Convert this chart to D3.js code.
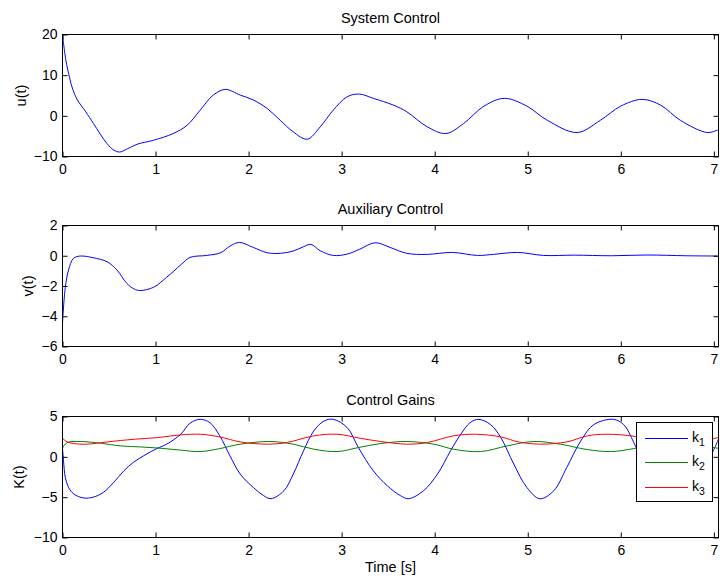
<!DOCTYPE html>
<html>
<head>
<meta charset="utf-8">
<script src="https://cdn.jsdelivr.net/npm/d3@7/dist/d3.min.js"></script>
<style>
  html, body { margin: 0; padding: 0; background: #fff; }
  svg { display: block; font-family: "Liberation Sans", Arial, Helvetica, sans-serif; }
</style>
</head>
<body>
<svg id="chart" width="720" height="578"></svg>
<script>
// ---- data ----
const timeTicks = [0, 1, 2, 3, 4, 5, 6, 7];

const uTime = [0, 0.036, 0.075, 0.11, 0.16, 0.25, 0.333, 0.477, 0.55, 0.613, 0.69, 0.80, 0.978, 1.19, 1.34, 1.48, 1.62, 1.75, 1.91, 2.05, 2.2, 2.34, 2.48, 2.63, 2.77, 2.91, 3.06, 3.19, 3.34, 3.56, 3.70, 3.92, 4.12, 4.31, 4.53, 4.75, 4.99, 5.21, 5.53, 5.78, 6.0, 6.23, 6.43, 6.64, 6.93, 7.05];
const uValues = [20, 13.7, 9.5, 6.5, 3.9, 1.0, -1.9, -6.8, -8.4, -8.9, -8.2, -7.0, -6.0, -4.35, -2.3, 1.4, 5.1, 6.5, 5.1, 3.9, 1.8, -1.1, -3.95, -5.75, -2.7, 1.4, 4.7, 5.35, 4.3, 2.6, 1.0, -2.7, -4.35, -1.9, 2.4, 4.3, 2.4, -1.1, -4.1, -1.1, 2.4, 4.05, 2.6, -1.1, -4.1, -3.4];

const vTime = [0, 0.03, 0.065, 0.118, 0.19, 0.33, 0.48, 0.585, 0.69, 0.77, 0.835, 0.98, 1.12, 1.27, 1.37, 1.55, 1.70, 1.80, 1.90, 2.05, 2.2, 2.34, 2.48, 2.59, 2.67, 2.77, 2.91, 3.06, 3.19, 3.36, 3.52, 3.70, 3.92, 4.19, 4.46, 4.63, 4.89, 5.17, 5.5, 5.9, 6.28, 6.7, 7.05];
const vValues = [-4.45, -2.1, -0.94, -0.17, -0.02, -0.13, -0.4, -0.94, -1.82, -2.2, -2.3, -2.08, -1.42, -0.61, -0.11, 0.02, 0.2, 0.64, 0.88, 0.55, 0.2, 0.16, 0.31, 0.6, 0.75, 0.33, 0.02, 0.11, 0.42, 0.86, 0.55, 0.16, 0.09, 0.22, 0.02, 0.09, 0.22, 0.02, 0.04, 0.0, 0.05, 0.0, -0.02];

const k1Time = [0, 0.011, 0.03, 0.065, 0.12, 0.226, 0.33, 0.44, 0.55, 0.66, 0.76, 0.87, 1.015, 1.12, 1.27, 1.37, 1.48, 1.585, 1.69, 1.80, 1.91, 2.05, 2.16, 2.24, 2.38, 2.48, 2.59, 2.70, 2.81, 2.91, 3.06, 3.18, 3.34, 3.49, 3.63, 3.72, 3.88, 4.03, 4.17, 4.28, 4.38, 4.47, 4.6, 4.71, 4.85, 4.99, 5.13, 5.28, 5.42, 5.57, 5.71, 5.92, 6.03, 6.14, 6.3, 6.42, 6.55, 6.7, 6.85, 7.0, 7.05];
const k1Values = [1.05, -0.5, -2.55, -3.79, -4.6, -5.1, -5.0, -4.4, -3.17, -1.73, -0.7, 0.12, 1.03, 1.57, 2.8, 4.16, 4.65, 4.23, 2.6, 0.12, -2.14, -3.79, -4.8, -5.19, -4.2, -2.14, 0.74, 3.2, 4.44, 4.65, 3.62, 1.15, -1.73, -3.58, -4.8, -5.19, -4.2, -2.14, 0.74, 2.8, 4.23, 4.65, 4.0, 2.4, -0.9, -3.79, -5.19, -4.2, -1.3, 1.98, 4.0, 4.65, 4.0, 1.77, -2.5, -4.6, -5.19, -4.2, -2.14, 0.9, 2.2];

const k2Time = [0, 0.05, 0.19, 0.41, 0.62, 0.84, 1.05, 1.27, 1.48, 1.69, 1.91, 2.23, 2.48, 2.70, 2.95, 3.18, 3.42, 3.7, 3.99, 4.2, 4.49, 4.78, 5.06, 5.35, 5.64, 5.89, 6.14, 6.5, 6.75, 7.0, 7.05];
const k2Values = [1.1, 1.77, 1.9, 1.69, 1.36, 1.23, 1.07, 0.83, 0.65, 1.02, 1.57, 1.9, 1.57, 0.95, 0.65, 1.15, 1.65, 1.9, 1.57, 0.95, 0.65, 1.36, 1.9, 1.57, 0.9, 0.65, 1.02, 1.9, 1.6, 1.15, 1.05];

const k3Time = [0, 0.05, 0.12, 0.26, 0.48, 0.77, 1.02, 1.27, 1.48, 1.69, 1.91, 2.2, 2.41, 2.70, 2.95, 3.2, 3.42, 3.7, 3.92, 4.2, 4.44, 4.71, 4.9, 5.14, 5.42, 5.64, 5.85, 6.14, 6.35, 6.6, 6.8, 7.05];
const k3Values = [2.3, 1.85, 1.65, 1.57, 1.85, 2.18, 2.38, 2.72, 2.8, 2.47, 1.85, 1.57, 1.77, 2.6, 2.8, 2.3, 1.9, 1.57, 1.77, 2.6, 2.8, 2.47, 1.85, 1.57, 1.85, 2.6, 2.8, 2.55, 2.0, 1.57, 1.8, 2.4];

const gainNames = ["1", "2", "3"];
const gainColors = ["#0000ff", "#008000", "#ff0000"];

// ---- layout ----
const svg = d3.select("#chart");
const plotLeft = 62.5, plotRight = 718.5;
const x = d3.scaleLinear().domain([0, 7.05]).range([plotLeft, plotRight]);

const panels = [
  { title: "System Control", ylabel: "u(t)", top: 34.5, bottom: 156.5, domain: [-10, 20], ticks: [-10, 0, 10, 20], labelX: 21,
    series: [{ t: uTime, v: uValues, color: "#0000ff" }] },
  { title: "Auxiliary Control", ylabel: "v(t)", top: 225.5, bottom: 346.5, domain: [-6, 2], ticks: [-6, -4, -2, 0, 2], labelX: 27.5,
    series: [{ t: vTime, v: vValues, color: "#0000ff" }] },
  { title: "Control Gains", ylabel: "K(t)", top: 416.5, bottom: 537.5, domain: [-10, 5], ticks: [-10, -5, 0, 5], labelX: 19,
    series: [
      { t: k1Time, v: k1Values, color: gainColors[0] },
      { t: k2Time, v: k2Values, color: gainColors[1] },
      { t: k3Time, v: k3Values, color: gainColors[2] }
    ] }
];

const tickFont = 14;
const textFont = 14.5;
const tickLen = 5;

panels.forEach((p, i) => {
  const y = d3.scaleLinear().domain(p.domain).range([p.bottom, p.top]);
  const g = svg.append("g");

  // clip region for the traces
  const clipId = "clip" + i;
  svg.append("clipPath").attr("id", clipId)
    .append("rect").attr("x", plotLeft).attr("y", p.top)
    .attr("width", plotRight - plotLeft).attr("height", p.bottom - p.top);

  // traces
  const line = d3.line().x(d => x(d[0])).y(d => y(d[1])).curve(d3.curveCatmullRom.alpha(0.5));
  p.series.forEach(s => {
    const pts = s.t.map((t, j) => [t, s.v[j]]);
    g.append("path").datum(pts)
      .attr("d", line)
      .attr("fill", "none")
      .attr("stroke", s.color)
      .attr("stroke-width", 1)
      .attr("clip-path", `url(#${clipId})`);
  });

  // axes: labelled bottom/left, mirrored ticks top/right
  const xAxis = d3.axisBottom(x).tickValues(timeTicks).tickFormat(d3.format("d"))
    .tickSizeInner(-tickLen).tickSizeOuter(0).tickPadding(8);
  const yAxis = d3.axisLeft(y).tickValues(p.ticks).tickFormat(d3.format("d"))
    .tickSizeInner(-tickLen).tickSizeOuter(0).tickPadding(5);
  const xTop = d3.axisTop(x).tickValues(timeTicks).tickFormat("")
    .tickSizeInner(-tickLen).tickSizeOuter(0);
  const yRight = d3.axisRight(y).tickValues(p.ticks).tickFormat("")
    .tickSizeInner(-tickLen).tickSizeOuter(0);

  const axes = [
    g.append("g").attr("transform", `translate(0,${p.bottom})`).call(xAxis),
    g.append("g").attr("transform", `translate(${plotLeft},0)`).call(yAxis),
    g.append("g").attr("transform", `translate(0,${p.top})`).call(xTop),
    g.append("g").attr("transform", `translate(${plotRight},0)`).call(yRight)
  ];
  axes.forEach(a => {
    a.select(".domain").remove();
    a.selectAll("line").attr("stroke", "#000");
    a.selectAll("text").attr("fill", "#000")
      .style("font-size", tickFont + "px")
      .style("font-family", "'Liberation Sans', Arial, Helvetica, sans-serif");
  });

  // box
  g.append("rect")
    .attr("x", plotLeft).attr("y", p.top)
    .attr("width", plotRight - plotLeft).attr("height", p.bottom - p.top)
    .attr("fill", "none").attr("stroke", "#000").attr("stroke-width", 1);

  // title
  g.append("text")
    .attr("x", (plotLeft + plotRight) / 2).attr("y", p.top - 11.5)
    .attr("text-anchor", "middle").style("font-size", textFont + "px")
    .text(p.title);

  // y label
  g.append("text")
    .attr("transform", `translate(${p.labelX},${(p.top + p.bottom) / 2}) rotate(-90)`)
    .attr("text-anchor", "middle").attr("dy", "0.35em")
    .style("font-size", textFont + "px")
    .text(p.ylabel);

  // legend for gains
  if (i === 2) {
    const lg = svg.append("g");
    lg.append("rect")
      .attr("x", 636.5).attr("y", 422.5).attr("width", 76).attr("height", 79)
      .attr("fill", "#fff").attr("stroke", "#000").attr("stroke-width", 1);
    const rowY = [438.5, 462.5, 487.5];
    gainNames.forEach((n, j) => {
      lg.append("line")
        .attr("x1", 645).attr("x2", 688)
        .attr("y1", rowY[j]).attr("y2", rowY[j])
        .attr("stroke", gainColors[j]).attr("stroke-width", 1);
      const t = lg.append("text")
        .attr("x", 692).attr("y", rowY[j] + 3.5)
        .style("font-size", "14px");
      t.append("tspan").text("k");
      t.append("tspan").attr("dy", 4).style("font-size", "10.5px").text(n);
    });
  }
});

// shared x label
svg.append("text")
  .attr("x", (plotLeft + plotRight) / 2).attr("y", 572)
  .attr("text-anchor", "middle").style("font-size", textFont + "px")
  .text("Time [s]");
</script>
</body>
</html>
